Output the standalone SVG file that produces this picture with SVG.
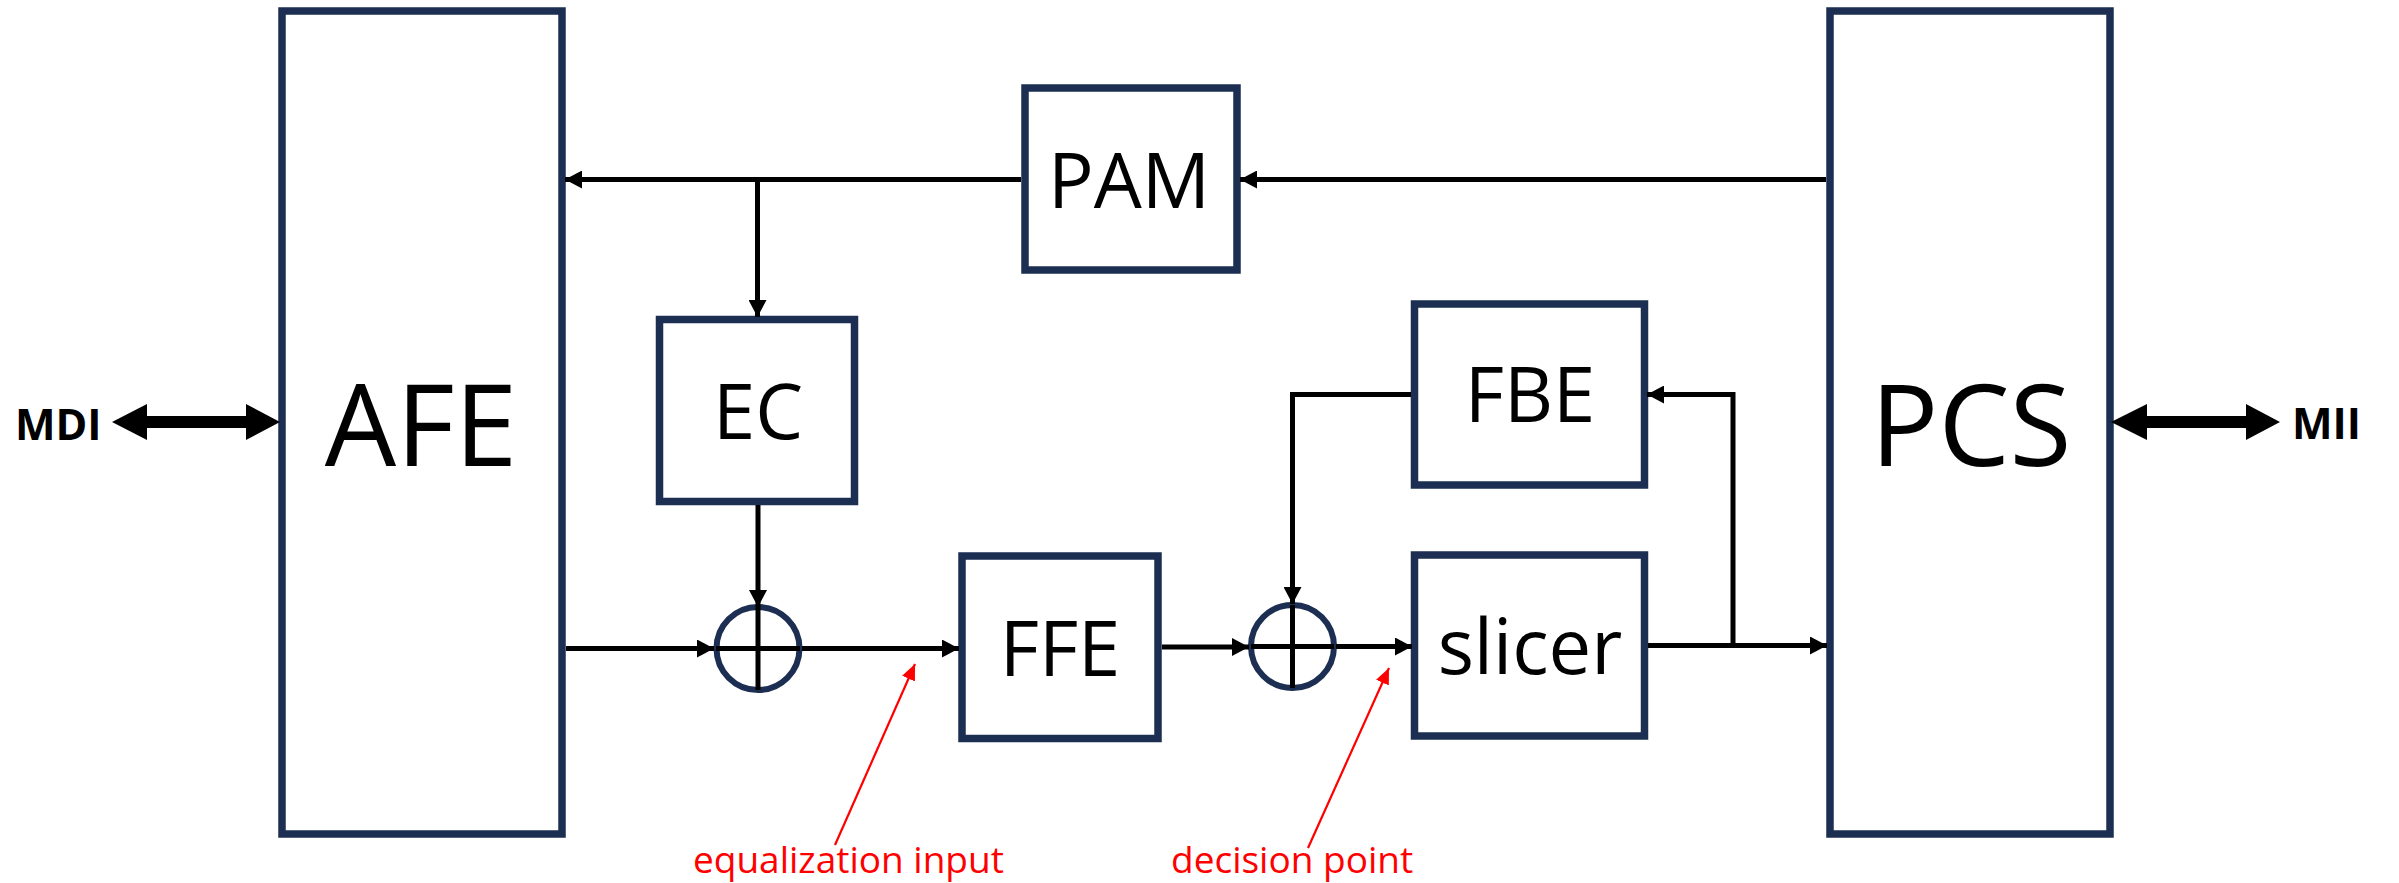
<svg xmlns="http://www.w3.org/2000/svg" width="2399" height="883" viewBox="0 0 2399 883">
<style>
.box{fill:#fff;stroke:#1c2e51;stroke-width:7.5}
.sum{fill:none;stroke:#1c2e51;stroke-width:6}
.cross{stroke:#000;stroke-width:5}
.ln{fill:none;stroke:#000;stroke-width:5}
.red{fill:none;stroke:#ff0000;stroke-width:2.2}
.lbl{font-family:"Open Sans","Liberation Sans",sans-serif;fill:#000;text-anchor:middle}
.big{font-size:113px}
.mid{font-size:76px}
.io{font-family:"Open Sans","Liberation Sans",sans-serif;font-weight:bold;font-size:43px;fill:#000}
.note{font-family:"Open Sans","Liberation Sans",sans-serif;font-size:37px;fill:#ff0000}
</style>
<defs>
<marker id="ah" markerUnits="userSpaceOnUse" markerWidth="17" markerHeight="18" refX="17" refY="9" orient="auto">
<path d="M0,0 L17,9 L0,18 z" fill="#000"/>
</marker>
<marker id="rah" markerUnits="userSpaceOnUse" markerWidth="16" markerHeight="14" refX="16" refY="7" orient="auto">
<path d="M0,0 L16,7 L0,14 z" fill="#ff0000"/>
</marker>
</defs>

<g id="AFE">
<rect class="box" x="282" y="11" width="280" height="823"/>
<text class="lbl big" x="421" y="466">AFE</text>
</g>
<g id="PCS">
<rect class="box" x="1830" y="11" width="280" height="823"/>
<text class="lbl big" x="1971" y="466">PCS</text>
</g>
<g id="PAM">
<rect class="box" x="1025" y="88" width="212" height="182"/>
<text class="lbl mid" x="1129" y="208">PAM</text>
</g>
<g id="EC">
<rect class="box" x="659.5" y="319.5" width="195" height="182"/>
<text class="lbl mid" x="758" y="439">EC</text>
</g>
<g id="FFE">
<rect class="box" x="962" y="556" width="196" height="182.5"/>
<text class="lbl mid" x="1060" y="676">FFE</text>
</g>
<g id="FBE">
<rect class="box" x="1414.5" y="304" width="230" height="181"/>
<text class="lbl mid" x="1530" y="422">FBE</text>
</g>
<g id="slicer">
<rect class="box" x="1414.5" y="555" width="230" height="181"/>
<text class="lbl mid" x="1530" y="674">slicer</text>
</g>
<g id="sum1">
<circle class="sum" cx="758" cy="648.5" r="41.5"/>
<line class="cross" x1="758" y1="607" x2="758" y2="690"/>
<line class="cross" x1="716" y1="648.5" x2="800" y2="648.5"/>
</g>
<g id="sum2">
<circle class="sum" cx="1292.5" cy="646.5" r="41.5"/>
<line class="cross" x1="1292.5" y1="605" x2="1292.5" y2="688"/>
<line class="cross" x1="1251" y1="646.5" x2="1334" y2="646.5"/>
</g>
<g id="MDI">
<text class="io" x="15" y="440">MDI</text>
</g>
<g id="MII">
<text class="io" x="2292" y="439">MII</text>
</g>
<g id="equalization-input">
<text class="note" x="693" y="873">equalization input</text>
</g>
<g id="decision-point">
<text class="note" x="1171" y="873">decision point</text>
</g>

<g id="connectors">
<line class="ln" x1="1826" y1="179.5" x2="1240" y2="179.5" marker-end="url(#ah)"/>
<line class="ln" x1="1021" y1="179.5" x2="565" y2="179.5" marker-end="url(#ah)"/>
<line class="ln" x1="757.5" y1="179.5" x2="757.5" y2="317" marker-end="url(#ah)"/>
<line class="ln" x1="758" y1="505" x2="758" y2="607" marker-end="url(#ah)"/>
<line class="ln" x1="566" y1="648.5" x2="714" y2="648.5" marker-end="url(#ah)"/>
<line class="ln" x1="802" y1="648.5" x2="959" y2="648.5" marker-end="url(#ah)"/>
<line class="ln" x1="1162" y1="647" x2="1249" y2="647" marker-end="url(#ah)"/>
<line class="ln" x1="1336" y1="646.5" x2="1412" y2="646.5" marker-end="url(#ah)"/>
<path class="ln" d="M1411,394.5 L1292.5,394.5 L1292.5,604" marker-end="url(#ah)"/>
<line class="ln" x1="1648" y1="645.5" x2="1827" y2="645.5" marker-end="url(#ah)"/>
<path class="ln" d="M1733,645.5 L1733,394.5 L1647,394.5" marker-end="url(#ah)"/>
<polygon fill="#000" points="112,422 147,404 147,416 246,416 246,404 280,422 246,440 246,428 147,428 147,440"/>
<polygon fill="#000" points="2111,422 2147,404 2147,416 2246,416 2246,404 2280,422 2246,440 2246,428 2147,428 2147,440"/>
<line class="red" x1="835" y1="845" x2="915" y2="664" marker-end="url(#rah)"/>
<line class="red" x1="1308" y1="848" x2="1389" y2="668" marker-end="url(#rah)"/>
</g>
</svg>
